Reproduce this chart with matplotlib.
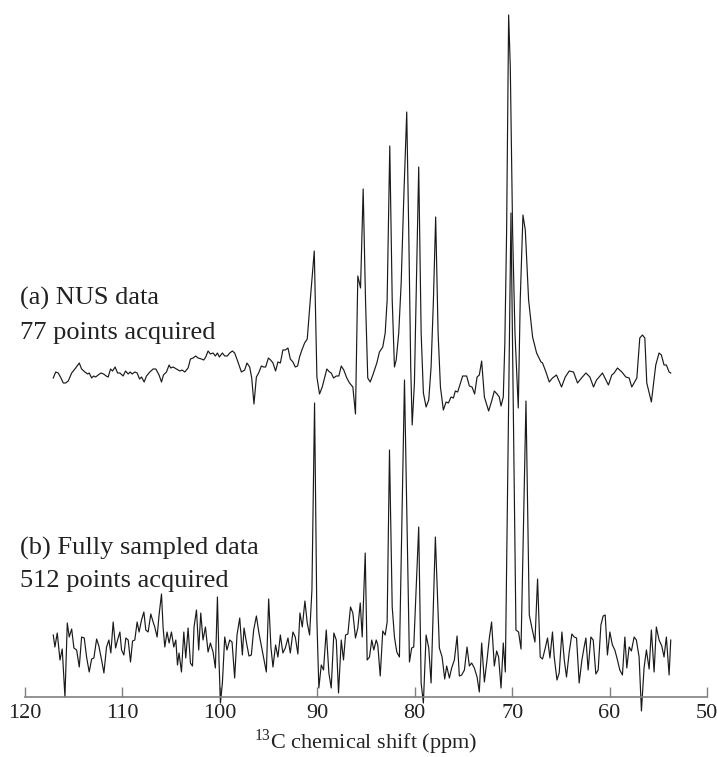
import matplotlib
matplotlib.use("Agg")
import matplotlib.pyplot as plt

# (a) NUS spectrum, 77 points acquired (ppm, intensity)
nus_ppm = [117.10, 116.85, 116.59, 116.31, 116.07, 115.83, 115.56, 115.21, 114.80, 114.43,
           114.19, 113.85, 113.57, 113.41, 113.16, 112.96, 112.75, 112.49, 112.21, 111.93,
           111.67, 111.46, 111.22, 111.01, 110.75, 110.50, 110.26, 109.93, 109.68, 109.41,
           109.21, 109.00, 108.73, 108.49, 108.24, 108.04, 107.77, 107.53, 107.19, 106.85,
           106.57, 106.24, 105.99, 105.79, 105.48, 105.21, 105.04, 104.80, 104.45, 104.11,
           103.88, 103.60, 103.26, 103.02, 102.75, 102.47, 102.24, 101.89, 101.65, 101.45,
           101.21, 100.97, 100.70, 100.46, 100.25, 100.05, 99.74, 99.50, 99.23, 98.99,
           98.71, 98.48, 98.14, 97.79, 97.45, 97.22, 96.94, 96.73, 96.50, 96.25,
           96.02, 95.74, 95.51, 95.30, 95.02, 94.79, 94.55, 94.28, 94.04, 93.79,
           93.53, 93.28, 93.01, 92.77, 92.50, 92.26, 92.02, 91.82, 91.58, 91.30,
           91.03, 90.72, 90.31, 90.04, 89.77, 89.49, 89.02, 88.74, 88.57, 88.33,
           88.05, 87.79, 87.54, 87.28, 86.97, 86.69, 86.35, 86.08, 85.84, 85.56,
           85.29, 85.05, 84.82, 84.57, 84.30, 83.89, 83.62, 83.28, 83.03, 82.83,
           82.56, 82.31, 82.08, 81.90, 81.64, 81.39, 81.13, 80.82, 80.61, 80.41,
           80.26, 80.03, 79.79, 79.59, 79.34, 79.11, 78.83, 78.56, 78.32, 78.08,
           77.85, 77.60, 77.36, 77.06, 76.78, 76.54, 76.27, 76.03, 75.83, 75.59,
           75.08, 74.67, 74.39, 74.12, 73.85, 73.60, 73.37, 73.13, 72.85, 72.41,
           72.07, 71.83, 71.55, 71.32, 71.14, 70.91, 70.75, 70.57, 70.36, 70.19,
           69.95, 69.71, 69.37, 69.17, 68.89, 68.65, 68.31, 67.90, 67.49, 67.04,
           66.88, 66.53, 66.19, 65.86, 65.45, 64.93, 64.55, 64.14, 63.70, 63.29,
           62.88, 62.43, 62.02, 61.65, 61.34, 61.07, 60.73, 60.38, 60.12, 59.77,
           59.53, 59.19, 58.74, 58.33, 57.99, 57.72, 57.20, 56.90, 56.63, 56.38,
           56.18, 55.71, 55.26, 54.92, 54.68, 54.41, 54.17, 53.89, 53.72]
nus_int = [-8, -2, -3, -8, -13, -13, -11, -3, 2, 7,
           1, -2, -4, -3, -8, -6, -7, -5, -3, -4,
           -6, -7, 1, -1, 3, -3, -3, -6, -1, -4,
           -2, -4, -2, -3, -9, -7, -12, -6, -2, 1,
           1, -5, -12, -5, -2, 5, 2, 3, 1, -1,
           0, -2, 2, 11, 12, 14, 12, 11, 10, 13,
           19, 16, 17, 14, 17, 13, 17, 14, 14, 17,
           19, 17, 8, -2, 0, 7, 3, -8, -34, -7,
           -3, 4, 3, 3, 12, 10, 7, -1, 8, 7,
           20, 20, 22, 11, 8, 3, 4, 13, 20, 27,
           31, 70, 119, -7, -24, -17, 1, -2, -3, -8,
           -6, -6, 4, 0, -8, -13, -17, -44, 94, 82,
           181, 70, -8, -12, -5, 7, 18, 23, 37, 70,
           224, 70, 3, 10, 37, 87, 170, 258, 137, 3,
           -55, -13, 103, 203, 37, -23, -37, -30, 3, 70,
           153, 37, -17, -40, -32, -33, -27, -28, -21, -22,
           -6, -6, -16, -17, -24, -7, -5, 9, -27, -41,
           -30, -21, -24, -27, -36, -27, 27, 137, 355, 303,
           137, 37, -38, 70, 155, 140, 70, 33, 17, 8,
           7, -2, -12, -8, -5, -17, -7, -1, -2, -13,
           -8, -3, -7, -17, -10, -7, -3, -10, -15, -5,
           -3, 2, -2, -7, -8, -17, -8, 32, 35, 32,
           -13, -32, 5, 17, 15, 5, 5, -2, -3]

# (b) fully sampled spectrum, 512 points acquired (ppm, intensity)
full_ppm = [117.10, 116.93, 116.69, 116.41, 116.18, 115.90, 115.66, 115.46, 115.21, 114.98,
            114.70, 114.43, 114.19, 113.92, 113.68, 113.41, 113.16, 112.93, 112.65, 112.42,
            112.14, 111.90, 111.63, 111.39, 111.19, 110.95, 110.70, 110.50, 110.26, 110.09,
            109.85, 109.65, 109.41, 109.17, 108.96, 108.73, 108.49, 108.29, 108.04, 107.80,
            107.60, 107.36, 107.09, 106.85, 106.68, 106.44, 106.24, 105.99, 105.83, 105.65,
            105.42, 105.21, 104.97, 104.73, 104.52, 104.35, 104.19, 103.94, 103.70, 103.50,
            103.26, 103.02, 102.81, 102.65, 102.40, 102.17, 101.96, 101.73, 101.48, 101.21,
            100.97, 100.70, 100.46, 100.25, 100.09, 99.94, 99.74, 99.50, 99.27, 98.99,
            98.75, 98.48, 98.24, 97.96, 97.69, 97.52, 97.28, 97.01, 96.77, 96.53,
            96.25, 95.99, 95.74, 95.51, 95.23, 94.99, 94.76, 94.55, 94.28, 94.04,
            93.79, 93.53, 93.28, 93.01, 92.77, 92.50, 92.26, 91.99, 91.78, 91.54,
            91.27, 91.03, 90.79, 90.55, 90.28, 90.04, 89.84, 89.59, 89.36, 89.08,
            88.81, 88.57, 88.30, 88.05, 87.82, 87.54, 87.31, 87.10, 86.86, 86.59,
            86.35, 86.08, 85.84, 85.59, 85.39, 85.08, 84.88, 84.64, 84.41, 84.20,
            83.95, 83.79, 83.54, 83.28, 83.03, 82.83, 82.59, 82.31, 82.08, 81.84,
            81.57, 81.05, 80.54, 80.31, 80.10, 79.59, 79.34, 79.11, 78.83, 78.56,
            78.32, 77.88, 77.47, 77.19, 76.92, 76.72, 76.44, 76.21, 75.93, 75.65,
            75.42, 75.18, 74.90, 74.63, 74.39, 74.16, 73.88, 73.60, 73.37, 73.13,
            72.85, 72.58, 72.34, 72.11, 71.83, 71.59, 71.39, 71.14, 70.91, 70.70,
            70.12, 69.61, 69.34, 69.09, 68.58, 68.24, 67.97, 67.66, 67.39, 67.12,
            66.88, 66.60, 66.37, 66.12, 65.86, 65.68, 65.40, 65.17, 64.89, 64.65,
            64.42, 64.14, 63.87, 63.63, 63.39, 63.12, 62.84, 62.61, 62.43, 62.20,
            61.92, 61.68, 61.41, 61.17, 60.89, 60.66, 60.45, 60.22, 59.97, 59.71,
            59.46, 59.19, 58.95, 58.68, 58.43, 58.23, 57.99, 57.76, 57.48, 57.25,
            56.97, 56.73, 56.46, 56.22, 55.94, 55.71, 55.43, 55.20, 54.92, 54.64,
            54.41, 54.17, 53.89, 53.72]
full_int = [5, -7, 7, -20, -9, -57, 17, 3, 11, -8,
            -10, -27, 3, 2, -17, -32, -19, -18, 1, -6,
            -20, -33, -7, 0, -13, 18, -8, 0, 8, -10,
            -15, 2, 0, -22, -1, 0, 18, 8, 20, 28,
            10, 8, 26, 18, 13, 3, 25, 46, 13, -7,
            8, -3, 8, -7, 0, -25, -13, -32, 8, -18,
            12, -23, -26, 13, 30, -10, 27, 0, 13, -12,
            -3, -12, -28, 43, -20, -63, -43, 3, -10, 0,
            -2, -38, 5, 22, -15, 12, -2, -16, -15, 10,
            24, 7, -6, -18, -32, 41, -7, -27, -5, -17,
            5, -13, -8, 2, -13, 8, 3, -14, 27, 13,
            39, 17, 5, 50, 237, 20, -48, -25, -30, 10,
            -33, -48, 7, 0, -53, 0, -20, 5, 6, 33,
            27, 2, 12, 37, 3, 87, -20, -17, 0, -10,
            0, -5, -36, 9, 5, 18, 190, 33, 3, -12,
            -17, 260, -22, -8, -7, 113, -43, -63, 5, -8,
            -43, 103, -8, -17, -39, -26, -38, -28, -20, 4,
            -36, -35, -30, -7, -26, -23, -28, -37, -52, -3,
            -42, -20, 2, 18, -26, -11, -17, -48, -3, -32,
            427, 10, 8, -9, 239, 25, 12, -2, 61, -17,
            -19, -8, 2, -18, 8, -17, -40, -33, 8, -20,
            -37, -12, 6, 3, 2, -43, -20, -7, 2, -30,
            3, 0, -34, -30, 15, 24, 25, -15, 8, -5,
            -10, -20, -30, -35, 3, -28, -7, -11, 3, 0,
            -17, -71, -28, -10, -29, 10, -32, 13, 0, -6,
            -17, 3, -35, 0]

labels = ["(a) NUS data", "77 points acquired",
          "(b) Fully sampled data", "512 points acquired"]
xticks = [120, 110, 100, 90, 80, 70, 60, 50]

plt.rcParams['font.family'] = ['Liberation Serif', 'DejaVu Serif']
plt.rcParams['mathtext.fontset'] = 'custom'
plt.rcParams['mathtext.rm'] = 'Liberation Serif'

W, H = 717, 757
fig = plt.figure(figsize=(W / 100, H / 100), dpi=100)
# axes spans x 25..707 px, y 5..715 px; 1 data unit = 1 px vertically
ax = fig.add_axes([25 / W, 42 / H, 682 / W, 710 / H])

off_a = 327
off_b = 57
ax.plot(nus_ppm, [v + off_a for v in nus_int], color='#1a1a1a', lw=0.85)
ax.plot(full_ppm, [v + off_b for v in full_int], color='#1a1a1a', lw=0.85)

ax.set_xlim(120, 50)
ax.set_ylim(-18, 692)
for s in ['top', 'left', 'right']:
    ax.spines[s].set_visible(False)
ax.spines['bottom'].set_position(('data', 0))
ax.spines['bottom'].set_color('#808080')
ax.spines['bottom'].set_linewidth(1.2)
ax.set_yticks([])
ax.set_xticks(xticks)
ax.set_xticklabels([str(t) for t in xticks])
ax.tick_params(axis='x', direction='in', length=7, width=1, color='#808080',
               labelsize=16, labelcolor='#222222', pad=5)
ax.patch.set_visible(False)

fig.text(366 / W, 1 - 742 / H, r'$^{13}$C chemical shift (ppm)', ha='center', va='center',
         fontsize=16, color='#222222')

ys = [298, 333, 548, 581]
for lab, y in zip(labels, ys):
    fig.text(20 / W, 1 - y / H, lab, ha='left', va='center', fontsize=19, color='#222222')

fig.savefig('out.png', dpi=100)
